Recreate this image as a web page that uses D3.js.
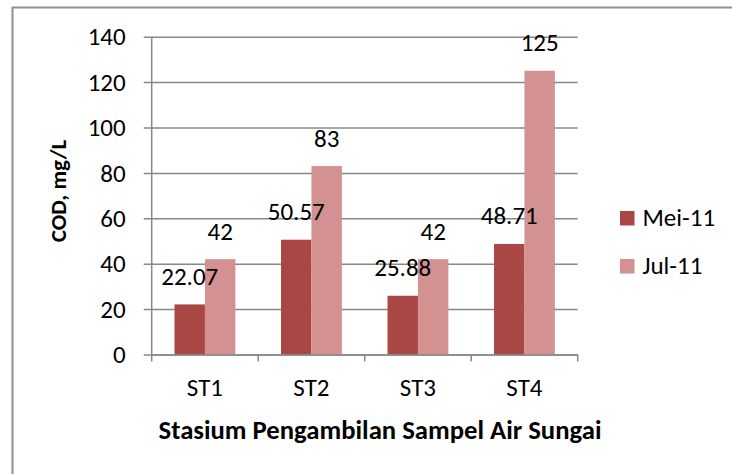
<!DOCTYPE html>
<html>
<head>
<meta charset="utf-8">
<script src="https://cdn.jsdelivr.net/npm/d3@7/dist/d3.min.js"></script>
<style>
  html, body { margin: 0; padding: 0; background: #fff; }
  svg { display: block; }
  svg text { font-family: Carlito, Calibri, Lato, sans-serif; }
  svg text.title { font-weight: bold; }
</style>
</head>
<body>
<svg id="chart" width="732" height="474"></svg>
<script>
// COD per sampling station, two sampling months
const stations = ["ST1", "ST2", "ST3", "ST4"];
const seriesNames = ["Mei-11", "Jul-11"];
const meiValues = [22.07, 50.57, 25.88, 48.71];
const julValues = [42, 83, 42, 125];
const meiLabels = ["22.07", "50.57", "25.88", "48.71"];
const julLabels = ["42", "83", "42", "125"];
const yTicks = [0, 20, 40, 60, 80, 100, 120, 140];
const seriesColors = ["#A94744", "#D39192"];

const textSize = "25px";

const svg = d3.select("#chart");

// outer chart frame
svg.append("rect")
  .attr("x", 12.5).attr("y", 7.5)
  .attr("width", 760).attr("height", 500)
  .attr("fill", "none")
  .attr("stroke", "#8f8f8f")
  .attr("stroke-width", 2);

const plot = { left: 151.7, right: 577.7, top: 36.7, bottom: 354.5 };

const y = d3.scaleLinear().domain([0, 140]).range([plot.bottom, plot.top]);
const x0 = d3.scaleBand().domain(stations).range([plot.left, plot.right]);
const x1 = d3.scaleBand().domain(seriesNames)
  .range([0, x0.bandwidth()]).paddingInner(0).paddingOuter(0.75);

const axisColor = "#888888";

// horizontal gridlines with short ticks on the value axis
const yAxis = d3.axisLeft(y).tickValues(yTicks)
  .tickSize(-(plot.right - plot.left)).tickPadding(26).tickFormat(d3.format("d"));
const yg = svg.append("g").attr("transform", `translate(${plot.left},0)`).call(yAxis);
yg.attr("font-family", null).attr("font-size", null);
yg.select(".domain").remove();
yg.selectAll(".tick line")
  .attr("x1", -8)
  .attr("stroke", axisColor).attr("stroke-width", 1.5);
yg.selectAll(".tick text")
  .attr("dy", "0.33em")
  .attr("fill", "#000").style("font-size", textSize);

// vertical value-axis line
svg.append("line")
  .attr("x1", plot.left).attr("x2", plot.left)
  .attr("y1", plot.top).attr("y2", plot.bottom)
  .attr("stroke", axisColor).attr("stroke-width", 1.5);

// bars
const data = stations.map((s, i) => ({ station: s, values: [
  { name: seriesNames[0], value: meiValues[i], label: meiLabels[i] },
  { name: seriesNames[1], value: julValues[i], label: julLabels[i] }
]}));

const groups = svg.append("g").selectAll("g")
  .data(data).join("g")
  .attr("transform", d => `translate(${x0(d.station)},0)`);

groups.selectAll("rect")
  .data(d => d.values).join("rect")
  .attr("x", d => x1(d.name))
  .attr("width", x1.bandwidth())
  .attr("y", d => y(d.value))
  .attr("height", d => y(0) - y(d.value))
  .attr("fill", (d, i) => seriesColors[i]);

// category axis
const xAxis = d3.axisBottom(x0).tickSize(0);
const xg = svg.append("g").attr("transform", `translate(0,${plot.bottom})`).call(xAxis);
xg.attr("font-family", null).attr("font-size", null);
xg.select(".domain").attr("stroke", axisColor).attr("stroke-width", 1.5);
xg.selectAll(".tick text")
  .attr("y", 41.5).attr("dy", null)
  .attr("fill", "#000").style("font-size", textSize);
// boundary tick marks between categories
const boundaries = stations.map(s => x0(s)).concat([x0.range()[1]]);
svg.append("g").selectAll("line")
  .data(boundaries).join("line")
  .attr("x1", d => d).attr("x2", d => d)
  .attr("y1", plot.bottom).attr("y2", plot.bottom + 7)
  .attr("stroke", axisColor).attr("stroke-width", 1.5);

// value labels above bars
groups.selectAll("text.val")
  .data(d => d.values).join("text")
  .attr("class", "val")
  .attr("x", d => x1(d.name) + x1.bandwidth() / 2)
  .attr("y", d => y(d.value) - 19.5)
  .attr("text-anchor", "middle")
  .style("font-size", textSize)
  .attr("fill", "#000")
  .text(d => d.label);

// axis titles
svg.append("text")
  .attr("class", "title")
  .attr("x", 380).attr("y", 439)
  .attr("text-anchor", "middle")
  .style("font-size", "26.7px")
  .text("Stasium Pengambilan Sampel Air Sungai");

svg.append("text")
  .attr("class", "title")
  .attr("transform", "translate(66,191) rotate(-90)")
  .attr("text-anchor", "middle")
  .style("font-size", "23px")
  .text("COD, mg/L");

// legend
const legend = svg.append("g").selectAll("g")
  .data(seriesNames).join("g")
  .attr("transform", (d, i) => `translate(620,${211 + i * 48})`);
legend.append("rect")
  .attr("width", 14.5).attr("height", 14.5)
  .attr("fill", (d, i) => seriesColors[i]);
legend.append("text")
  .attr("x", 22.5).attr("y", 15)
  .style("font-size", textSize)
  .attr("fill", "#000")
  .text(d => d);
</script>
</body>
</html>
